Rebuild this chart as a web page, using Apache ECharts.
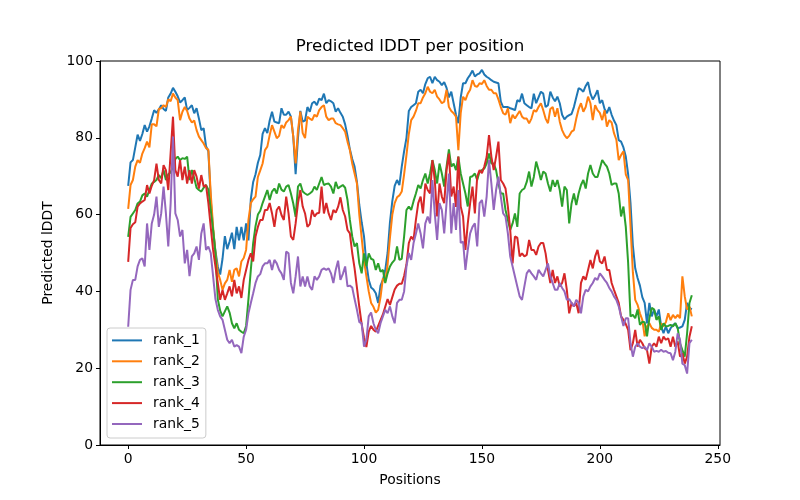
<!DOCTYPE html>
<html><head><meta charset="utf-8">
<script src="https://cdn.jsdelivr.net/npm/echarts@6/dist/echarts.min.js"></script>
<style>html,body{margin:0;padding:0;background:#fff}#c{width:800px;height:500px}</style>
</head><body><div id="c"></div>
<script>
const chartTitle = 'Predicted lDDT per position';
const xLabel = 'Positions';
const yLabel = 'Predicted lDDT';
const seriesNames = ['rank_1', 'rank_2', 'rank_3', 'rank_4', 'rank_5'];
const seriesColors = ['#1f77b4', '#ff7f0e', '#2ca02c', '#d62728', '#9467bd'];
const xTicks = [0, 50, 100, 150, 200, 250];
const yTicks = [0, 20, 40, 60, 80, 100];

const rank_1 = [
67.5,73.6,74.2,77.5,80.8,79.2,81.0,83.3,81.6,83.0,
85.0,87.2,86.5,87.4,88.5,87.5,87.0,90.5,91.5,93.0,
92.0,90.8,89.2,89.8,90.5,87.2,87.8,88.5,86.4,87.7,
85.0,82.0,82.5,77.8,76.5,64.0,56.0,50.5,46.5,44.4,
48.5,54.4,51.0,53.0,55.3,51.0,56.8,53.3,56.8,53.3,
57.7,53.3,64.0,68.5,70.5,73.5,75.5,81.0,82.5,81.2,
84.5,86.8,84.2,84.0,83.8,87.7,86.0,86.0,86.8,85.5,
80.3,70.5,80.0,87.0,84.2,84.5,88.0,86.8,89.0,89.4,
88.5,90.2,89.8,91.5,89.0,89.8,89.5,89.0,86.8,87.7,
86.5,85.5,83.5,80.5,77.0,74.5,72.5,68.5,62.5,58.0,
54.3,47.3,43.0,41.0,40.5,39.5,37.0,41.5,43.0,45.5,
50.0,58.0,63.5,67.5,69.0,67.7,72.5,76.5,80.0,87.0,
88.0,88.5,89.0,92.0,92.5,91.6,94.0,95.5,95.9,94.2,
95.9,95.0,94.6,93.7,94.5,93.0,90.5,92.0,89.0,86.0,
83.8,90.5,94.2,94.2,95.5,96.4,97.5,96.0,96.5,96.8,
97.7,96.5,95.9,95.5,95.0,94.6,94.4,94.2,89.4,88.0,
88.0,88.0,87.7,87.5,87.2,89.8,89.4,91.5,89.0,88.5,
88.0,87.7,91.5,89.0,90.5,92.0,91.5,88.0,88.5,92.0,
90.5,89.5,90.7,89.0,86.0,84.8,85.5,85.9,86.2,88.0,
90.5,92.9,92.6,92.0,93.5,94.5,91.5,90.0,91.0,92.4,
89.0,89.8,87.5,86.4,88.0,86.0,84.5,83.3,79.4,79.0,
77.5,75.1,70.5,63.0,52.0,46.0,43.5,41.5,38.5,37.0,
31.7,37.0,33.5,35.3,33.5,35.3,30.9,29.1,30.9,29.1,
30.4,31.2,31.7,30.4,30.6,30.9,32.6,37.0,35.7,35.3
];
const rank_2 = [
61.5,67.7,69.0,72.5,74.2,73.5,75.9,77.3,79.0,77.5,
83.5,83.5,83.0,87.5,87.7,88.5,88.0,90.0,89.5,91.5,
90.5,89.8,84.6,86.8,88.0,87.0,85.0,84.0,84.5,82.0,
80.3,79.4,78.5,77.3,76.9,65.5,56.8,50.0,45.0,43.0,
40.4,42.1,43.0,45.6,42.5,45.6,46.0,43.9,47.8,48.7,
50.8,58.6,63.0,64.0,64.7,69.8,71.5,73.3,76.8,77.7,
80.7,83.3,81.6,79.9,80.5,83.3,82.5,84.0,84.6,85.5,
80.3,73.3,82.0,86.8,81.2,79.9,85.5,85.0,84.6,86.0,
85.5,87.2,88.0,88.5,85.5,84.6,85.0,85.0,83.8,83.5,
83.3,82.5,81.6,79.0,76.8,73.3,70.7,68.1,60.0,54.0,
48.0,44.0,40.0,37.0,36.0,34.5,35.2,38.5,43.4,42.6,
47.0,54.0,60.0,63.0,64.5,65.0,66.0,70.5,75.5,81.0,
84.6,85.5,87.0,89.0,89.0,90.5,91.6,93.3,92.0,91.6,
92.5,90.7,90.0,89.0,89.4,92.5,88.0,87.0,86.4,85.5,
76.8,86.4,90.7,89.8,91.5,92.5,95.0,93.5,93.3,94.2,
94.0,95.0,93.5,92.5,92.5,91.6,91.6,90.0,88.0,86.4,
86.0,87.7,83.8,86.0,85.0,86.0,87.0,85.5,85.0,85.0,
83.8,85.0,87.2,86.8,88.0,89.0,87.2,85.0,83.8,87.5,
88.0,85.5,87.7,84.2,82.0,80.7,79.9,80.5,81.6,82.0,
85.0,87.5,89.0,86.8,88.0,90.7,89.0,84.6,88.5,87.2,
86.5,84.6,87.2,82.9,84.6,84.0,81.2,79.5,74.2,75.5,
76.5,70.5,69.0,57.0,45.0,37.8,36.5,34.3,32.6,28.3,
30.9,31.7,30.5,30.0,30.0,29.5,31.7,30.9,32.0,34.3,
32.5,33.9,33.0,33.9,33.0,43.9,38.7,35.3,36.1,33.5
];
const rank_3 = [
54.2,59.4,60.3,61.2,62.9,63.4,65.0,65.5,64.7,66.4,
68.1,68.5,69.0,70.3,69.5,71.6,69.0,70.5,71.0,72.5,
74.5,75.1,74.2,74.7,74.5,75.1,69.0,71.6,69.5,67.0,
66.4,66.0,67.0,67.7,66.5,61.2,56.0,50.0,38.0,35.0,
33.5,34.8,36.1,34.5,31.7,30.4,31.7,30.0,29.5,29.1,
31.0,38.0,45.6,52.6,57.0,60.0,61.0,63.0,64.7,66.4,
63.8,66.0,66.8,65.5,68.1,66.5,66.0,67.3,67.7,65.5,
62.9,59.4,67.3,68.1,66.0,65.5,65.1,65.5,66.0,67.3,
66.4,68.1,69.8,67.7,68.0,68.1,67.3,65.5,68.5,66.8,
67.3,67.7,67.0,63.8,58.6,54.3,51.7,52.6,47.3,44.7,
49.9,46.5,49.9,48.5,48.2,45.6,47.3,45.1,45.6,42.2,
44.7,46.5,47.5,48.2,51.7,48.2,48.5,54.3,61.2,62.1,
61.2,63.5,65.5,67.7,66.8,69.0,70.7,68.1,70.7,74.2,
71.6,68.1,73.3,70.7,67.3,72.5,77.0,72.5,73.3,71.6,
75.1,70.7,68.1,65.5,62.1,69.8,70.0,70.7,69.0,71.2,
71.6,72.0,73.3,75.9,73.3,73.3,71.6,68.1,65.5,65.5,
61.2,58.6,56.0,57.7,60.3,56.8,65.5,66.4,66.8,68.5,
71.2,67.3,69.8,73.8,71.6,69.0,71.2,70.7,68.1,66.0,
69.0,67.3,69.0,66.4,62.1,67.3,66.4,57.7,62.9,65.5,
62.5,65.5,67.7,69.0,66.8,70.7,72.9,70.7,69.8,69.8,
72.0,74.2,73.3,72.5,70.7,67.7,68.1,68.1,65.5,59.5,
62.1,56.8,47.4,33.5,33.9,33.0,35.3,31.3,32.1,32.0,
28.3,33.0,35.7,35.3,32.6,33.5,30.0,31.7,30.9,31.0,
31.3,30.9,31.7,30.5,26.5,24.7,23.0,29.1,37.0,39.0
];
const rank_4 = [
47.7,56.5,57.5,58.0,62.1,62.9,63.4,63.8,67.7,65.5,
67.5,69.0,73.3,69.0,68.1,72.9,71.6,66.4,76.0,85.5,
71.6,69.9,74.2,69.0,72.5,68.1,71.6,68.1,71.6,69.9,
66.8,70.3,67.3,67.7,63.0,56.8,50.8,46.5,42.2,37.8,
40.4,37.8,39.5,41.3,38.7,43.0,39.5,41.3,38.3,43.0,
45.6,48.2,49.9,47.8,54.3,56.8,58.6,58.6,61.2,61.2,
63.0,60.3,56.8,61.2,62.1,59.9,58.6,64.7,60.3,54.3,
53.4,57.7,63.0,66.4,62.1,60.3,56.8,57.5,61.2,59.5,
60.3,60.5,67.3,60.3,63.0,60.3,58.6,61.2,60.5,62.0,
64.5,61.2,59.5,56.0,55.1,50.0,46.0,41.0,36.0,31.5,
28.0,25.5,29.5,31.0,30.0,29.5,31.0,32.5,34.0,36.0,
38.0,36.5,38.5,40.5,41.5,42.0,42.0,44.0,47.0,52.6,
54.3,53.4,58.6,63.0,64.7,60.3,68.1,66.4,65.5,74.2,
69.0,59.5,68.1,64.7,63.0,71.6,75.9,64.7,67.3,62.0,
75.1,62.1,59.5,50.8,57.7,63.0,67.3,60.3,69.9,71.6,
70.8,72.5,75.0,80.7,75.1,71.6,75.1,79.0,69.0,68.1,
66.8,62.1,56.0,47.3,54.3,54.0,49.1,49.9,49.1,49.5,
53.4,50.8,50.8,49.5,51.7,52.6,52.6,49.9,45.6,42.2,
45.6,42.2,43.9,41.3,42.2,44.7,40.4,34.3,37.0,36.1,
37.0,34.3,42.2,43.9,43.0,45.6,48.2,46.0,49.1,50.8,
47.8,47.3,49.1,45.6,45.6,42.2,40.4,38.7,37.0,33.5,
32.6,31.5,30.0,24.7,26.5,30.0,25.6,27.4,26.5,25.2,
24.7,21.2,25.6,26.5,25.6,28.2,26.5,28.2,27.4,27.8,
25.6,28.2,25.6,27.0,23.0,23.9,21.2,23.0,28.2,30.9
];
const rank_5 = [
30.8,40.4,43.0,43.0,46.5,48.2,48.6,46.5,57.7,50.8,
57.7,60.0,64.7,56.8,60.3,67.3,60.3,51.7,62.9,80.3,
60.3,58.6,54.3,56.0,47.3,50.8,44.0,49.1,49.9,51.7,
48.2,55.1,57.7,50.8,51.7,50.0,44.0,38.0,35.2,33.5,
32.6,30.0,27.4,26.5,27.4,25.6,26.0,25.6,23.9,28.2,
30.0,34.3,37.0,39.5,42.2,43.9,44.5,46.5,47.3,47.3,
48.2,45.6,48.2,47.3,45.6,44.7,43.0,50.4,49.9,42.2,
39.5,43.9,49.1,41.3,43.9,41.3,43.9,41.3,40.4,43.9,
43.0,43.9,45.6,46.0,45.6,46.0,44.7,42.2,45.6,48.0,
43.0,44.5,46.5,41.3,41.5,41.0,38.0,35.2,32.0,31.7,
25.6,27.4,33.5,34.5,31.7,30.0,29.1,31.7,33.5,35.2,
34.3,36.1,33.5,31.7,37.0,37.8,37.8,40.0,46.5,50.0,
48.2,52.6,55.0,57.7,55.1,51.2,57.7,59.5,57.7,69.0,
60.3,53.4,63.0,61.2,55.1,63.0,70.7,55.1,63.0,56.0,
66.4,52.6,53.0,45.6,50.8,55.1,56.8,57.7,51.7,63.0,
63.8,59.5,64.7,74.2,68.1,61.2,66.4,69.9,64.7,60.3,
59.5,55.1,49.1,46.5,43.9,41.3,38.7,37.8,41.3,44.7,
45.6,44.7,43.9,43.0,45.6,44.7,43.9,45.6,47.3,43.9,
42.2,40.4,40.4,42.2,40.9,40.0,37.8,38.0,37.0,36.1,
37.8,37.0,34.3,38.7,40.4,40.0,41.3,42.2,43.5,43.0,
44.7,43.9,43.0,42.2,40.9,40.0,38.7,37.8,36.1,33.5,
31.0,33.0,33.0,26.5,23.0,25.6,26.5,25.6,25.2,25.6,
24.7,26.5,25.6,24.3,24.5,24.3,24.8,24.3,24.5,24.0,
23.9,22.1,24.3,29.1,27.4,21.2,20.8,18.6,26.5,27.4
];

const allSeries = [rank_1, rank_2, rank_3, rank_4, rank_5];
const positions = rank_1.map((_, i) => i);
const FONT = 'DejaVu Sans';

const chart = echarts.init(document.getElementById('c'), null, {renderer: 'canvas'});
chart.setOption({
  animation: false,
  backgroundColor: '#ffffff',
  title: {
    text: chartTitle, left: 410, top: 38, textAlign: 'center', padding: 0,
    textStyle: {fontFamily: FONT, fontSize: 16.7, fontWeight: 'normal', color: '#000'}
  },
  grid: {left: 100, right: 80, top: 61, bottom: 55, show: true, borderColor: '#000', borderWidth: 1},
  legend: {
    orient: 'vertical', left: 107, top: 328,
    icon: 'rect', itemWidth: 30, itemHeight: 2, itemGap: 4.9,
    padding: [4.4, 6, 6, 5],
    backgroundColor: 'rgba(255,255,255,0.8)', borderColor: '#cccccc', borderWidth: 1, borderRadius: 3,
    textStyle: {fontFamily: FONT, fontSize: 13.9, color: '#000', lineHeight: 16, padding: [0, 0, 0, 6]},
    data: seriesNames
  },
  xAxis: {
    type: 'value', min: -11.95, max: 250.95,
    name: xLabel, nameLocation: 'middle', nameGap: 28,
    nameTextStyle: {fontFamily: FONT, fontSize: 13.9, color: '#000'},
    axisLine: {show: true, onZero: false, lineStyle: {color: '#000', width: 1}},
    axisTick: {show: true, length: 4, customValues: xTicks, lineStyle: {color: '#000'}},
    axisLabel: {customValues: xTicks, margin: 7, fontFamily: FONT, fontSize: 13.9, color: '#000'},
    splitLine: {show: false}
  },
  yAxis: {
    type: 'value', min: 0, max: 100, interval: 20,
    name: yLabel, nameLocation: 'middle', nameGap: 41, nameRotate: 90,
    nameTextStyle: {fontFamily: FONT, fontSize: 13.9, color: '#000'},
    axisLine: {show: true, onZero: false, lineStyle: {color: '#000', width: 1}},
    axisTick: {show: true, length: 4, lineStyle: {color: '#000'}},
    axisLabel: {margin: 7, fontFamily: FONT, fontSize: 13.9, color: '#000'},
    splitLine: {show: false}
  },
  series: allSeries.map((arr, k) => ({
    type: 'line', name: seriesNames[k],
    data: positions.map((x, i) => [x, arr[i]]),
    showSymbol: false, symbol: 'none', silent: true,
    lineStyle: {width: 2, color: seriesColors[k]},
    itemStyle: {color: seriesColors[k]},
    z: 2 + k
  }))
});
</script></body></html>
